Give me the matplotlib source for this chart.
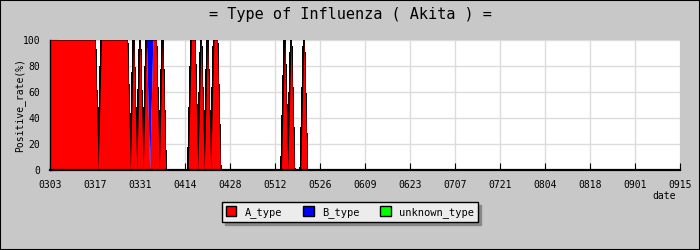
import numpy as np
import matplotlib
matplotlib.use('Agg')
import matplotlib.pyplot as plt
from matplotlib.patches import Patch, Rectangle
from matplotlib.ticker import MultipleLocator

# daily positive rate (%), day 0 = 0303
a_type = [100, 100, 100, 100, 100, 100, 100, 100, 100, 100,
          100, 100, 100, 100, 100, 0, 100, 100, 100, 100,
          100, 100, 100, 100, 100, 0, 100, 0, 100, 0,
          100, 0, 100, 100, 0, 100, 0, 0, 0, 0,
          0, 0, 0, 0, 100, 100, 0, 100, 0, 100,
          0, 100, 100, 0, 0, 0, 0, 0, 0, 0,
          0, 0, 0, 0, 0, 0, 0, 0, 0, 0,
          0, 0, 0, 100, 0, 100, 0, 0, 0, 100,
          0, 0]
b_type = [0, 0, 0, 0, 0, 0, 0, 0, 0, 0,
          0, 0, 0, 0, 0, 0, 0, 0, 0, 0,
          0, 0, 0, 0, 0, 0, 0, 0, 0, 0,
          0, 100, 0, 0, 0, 0, 0, 0, 0, 0,
          0, 0, 0, 0, 0, 0, 0, 0, 0, 0,
          0, 0, 0, 0, 0, 0, 0, 0, 0, 0,
          0, 0, 0, 0, 0, 0, 0, 0, 0, 0,
          0, 0, 0, 0, 0, 0, 0, 0, 0, 0,
          0, 0]
unknown_type = [0, 0, 0, 0, 0, 0, 0, 0, 0, 0,
                0, 0, 0, 0, 0, 0, 0, 0, 0, 0,
                0, 0, 0, 0, 0, 0, 0, 0, 0, 0,
                0, 0, 0, 0, 0, 0, 0, 0, 0, 0,
                0, 0, 0, 0, 0, 0, 0, 0, 0, 0,
                0, 0, 0, 0, 0, 0, 0, 0, 0, 0,
                0, 0, 0, 0, 0, 0, 0, 0, 0, 0,
                0, 0, 0, 0, 0, 0, 0, 0, 0, 0,
                0, 0]
date_labels = ['0303', '0317', '0331', '0414', '0428', '0512', '0526', '0609',
               '0623', '0707', '0721', '0804', '0818', '0901', '0915']

mono = 'DejaVu Sans Mono'
a = np.array(a_type, dtype=float)
b = np.array(b_type, dtype=float)
u = np.array(unknown_type, dtype=float)
days = np.arange(len(a))

fig = plt.figure(figsize=(7, 2.5), dpi=100, facecolor='#c8c8c8')
ax = fig.add_axes([50/700, 80/250, 630/700, 130/250])
ax.set_facecolor('white')

# outline of the stack, drawn under the fills so only the edges show
ax.plot(days, a + b + u, color='black', lw=1.1, antialiased=False, zorder=1)
ax.fill_between(days, 0, a, color='#ff0000', linewidth=0, antialiased=False, zorder=2)
ax.fill_between(days, a, a + b, color='#0000ff', linewidth=0, antialiased=False, zorder=2)
ax.fill_between(days, a + b, a + b + u, color='#00ff00', linewidth=0, antialiased=False, zorder=2)

ax.set_xlim(0, 14 * (len(date_labels) - 1))
ax.set_ylim(0, 100)
ax.set_xticks(np.arange(len(date_labels)) * 14)
ax.set_xticklabels(date_labels)
ax.yaxis.set_major_locator(MultipleLocator(20))
ax.yaxis.set_minor_locator(MultipleLocator(10))
ax.tick_params(axis='x', direction='in', length=5, pad=7, labelsize=7)
ax.tick_params(axis='y', which='major', direction='in', length=5, pad=7, labelsize=7)
ax.tick_params(axis='y', which='minor', direction='in', length=4)
for lab in ax.get_xticklabels() + ax.get_yticklabels():
    lab.set_family(mono)

ax.grid(True, color='#dcdcdc', lw=1, zorder=0)
ax.set_axisbelow(True)
ax.spines['top'].set_visible(False)
ax.spines['right'].set_visible(False)
ax.spines['bottom'].set_linewidth(1.6)
ax.spines['left'].set_linewidth(1)

fig.text(0.5, 1 - 14/250, '= Type of Influenza ( Akita ) =', ha='center', va='center',
         family=mono, size=11)
fig.text(20/700, 1 - 105/250, 'Positive_rate(%)', rotation=90, ha='center', va='center',
         family=mono, size=7)
fig.text(664/700, 1 - 196/250, 'date', ha='center', va='center', family=mono, size=7)

handles = [Patch(facecolor='#ff0000', edgecolor='black', label='A_type'),
           Patch(facecolor='#0000ff', edgecolor='black', label='B_type'),
           Patch(facecolor='#00ff00', edgecolor='black', label='unknown_type')]
leg = fig.legend(handles=handles, loc='center', bbox_to_anchor=(350/700, 1 - 212/250),
                 ncol=3, fancybox=False, shadow={'color': '#888888', 'alpha': 1},
                 edgecolor='black', facecolor='#ececec', framealpha=1,
                 handlelength=1, handleheight=1, handletextpad=0.8, columnspacing=2.0,
                 borderpad=0.4, prop={'family': mono, 'size': 7.5})
leg.get_frame().set_linewidth(1)

fig.add_artist(Rectangle((0, 0), 1, 1, transform=fig.transFigure, fill=False,
                         edgecolor='black', lw=1.5))

fig.savefig('out.png', dpi=100, facecolor=fig.get_facecolor())
